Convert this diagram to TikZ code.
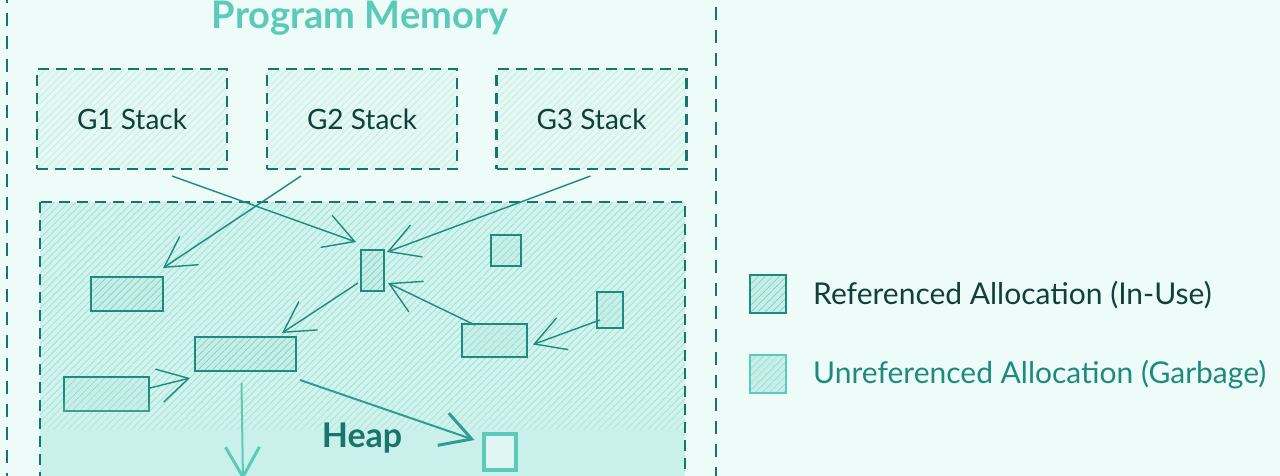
\documentclass[tikz,border=0pt]{standalone}
\usepackage{fontspec}
\setmainfont{Lato}
\usepackage{tikz}
\usetikzlibrary{arrows.meta,patterns.meta,calc,fadings}
\definecolor{bgcol}{HTML}{EDFBF9}
\definecolor{tealline}{HTML}{1E8A7E}
\definecolor{tealtext}{HTML}{0F403C}
\definecolor{heapfill}{HTML}{D2F4EF}
\definecolor{heaphatch}{HTML}{9EDDD4}
\definecolor{stackfill}{HTML}{E4F8F4}
\definecolor{stackhatch}{HTML}{C4EBE4}
\definecolor{objfill}{HTML}{C4EEE7}
\definecolor{objhatch}{HTML}{86D0C4}
\definecolor{fogcol}{HTML}{C9F0EA}
\definecolor{paleteal}{HTML}{5CCAB9}
\tikzfading[name=fogdown, top color=transparent!100, bottom color=transparent!0]
\tikzset{%
    stackbox/.style={draw=tealline!85!black,line width=2.2pt,dash pattern=on 11pt off 7pt,
        preaction={fill=stackfill},pattern={Lines[angle=45,distance=5pt,line width=0.6pt]},pattern color=stackhatch,
        inner sep=0pt,outer sep=0pt,minimum width=190pt,minimum height=100pt,
        font=\fontsize{28}{30}\selectfont,text=tealtext},
    alloc/.style={draw=tealline,solid,line width=1.4pt,preaction={fill=objfill},
        pattern={Lines[angle=45,distance=5pt,line width=0.7pt]},pattern color=objhatch,
        inner sep=0pt,outer sep=0pt},
    garbage/.style={alloc,preaction={fill=objfill!75!heapfill},
        pattern={Lines[angle=45,distance=5pt,line width=0.5pt]},pattern color=objhatch!60!heaphatch},
    ref/.style={draw=tealline,line width=1.4pt,
        -{Straight Barb[length=30pt,width=34pt,line width=1.4pt]}},
    legendtext/.style={anchor=west,inner sep=0pt,font=\fontsize{30}{33}\selectfont,text=tealtext}
}
\begin{document}
\begin{tikzpicture}[x=1pt,y=-1pt]
\useasboundingbox (0,0) rectangle (1280,476);
\fill[bgcol] (0,0) rectangle (1280,476);
% program memory frame
\draw[tealline!85!black,line width=2.2pt,dash pattern=on 13pt off 10pt] (7,-10) rectangle (716,490);
\node[font=\bfseries\fontsize{38}{40}\selectfont,text=paleteal] (title) at (360,18) {Program Memory};
% goroutine stacks
\node[stackbox] (g1) at (132,119) {G1 Stack};
\node[stackbox] (g2) at (362,119) {G2 Stack};
\node[stackbox] (g3) at (591.5,119) {G3 Stack};
% heap
\draw[draw=tealline!85!black,line width=2.2pt,dash pattern=on 11pt off 7pt,preaction={fill=heapfill},
    pattern={Lines[angle=45,distance=5pt,line width=0.7pt]},pattern color=heaphatch] (40,202) rectangle (685,490);
\node[alloc,minimum width=72pt,minimum height=34pt] (a) at (127,294) {};
\node[alloc,minimum width=23pt,minimum height=41pt] (b) at (372.5,270.5) {};
\node[garbage,minimum width=30pt,minimum height=31pt] (c) at (506,250.5) {};
\node[garbage,minimum width=26pt,minimum height=36pt] (d) at (610,310) {};
\node[garbage,minimum width=65pt,minimum height=33pt] (e) at (494.5,340.5) {};
\node[alloc,minimum width=101pt,minimum height=34pt] (f) at (245.5,354) {};
\node[garbage,minimum width=85pt,minimum height=34pt] (g) at (106.5,394) {};
% references
\draw[ref] ($(g1.south)+(40,7)$) -- ($(b.north west)+(-5,-8)$);
\draw[ref] ($(g2.south)+(-61,7)$) -- ($(a.north east)+(0,-9)$);
\draw[ref] ($(g3.south)+(-1,7)$) -- ($(b.north east)+(3,2)$);
\draw[ref] ($(b.south west)+(-3,-8)$) -- ($(f.north east)+(-14,-4)$);
\draw[ref] ($(e.north west)+(13,1)$) -- ($(b.south east)+(4,-8)$);
\draw[ref] ($(d.center)+(-10,10)$) -- ($(e.east)+(6,4)$);
\draw[ref] ($(g.east)+(1,-6)$) -- ($(f.south west)+(-5,7)$);
% blurred lower part of the heap
\fill[fogcol,path fading=fogdown] (41,395) rectangle (684,476);
\fill[fogcol] (41,430) rectangle (684,476);
\coordinate (down) at (243,480);
\node[draw=paleteal,line width=4pt,fill=fogcol!60!white,inner sep=0pt,minimum width=32pt,minimum height=36pt] (h) at (499.5,452) {};
\draw[draw=paleteal,line width=2pt,-{Straight Barb[length=30pt,width=34pt,line width=3pt]}] ($(f.south)+(-4,12)$) -- (down);
\draw[draw=tealline!70!paleteal,line width=2pt,-{Straight Barb[length=30pt,width=34pt,line width=3pt]}] ($(f.south east)+(4,9)$) -- ($(h.west)+(-7,-12)$);
\node[font=\bfseries\fontsize{34}{36}\selectfont,text=tealline!85!black] (heap) at (362,438) {Heap};
% legend
\node[alloc,minimum width=36pt,minimum height=38pt] (l1) at (768,294) {};
\node[garbage,draw=paleteal,minimum width=36pt,minimum height=38pt] (l2) at (768,374) {};
\node[legendtext] (l1text) at (813,295) {Referenced Allocation (In-Use)};
\node[legendtext,text=tealline] (l2text) at (813,375) {Unreferenced Allocation (Garbage)};
\end{tikzpicture}
\end{document}
